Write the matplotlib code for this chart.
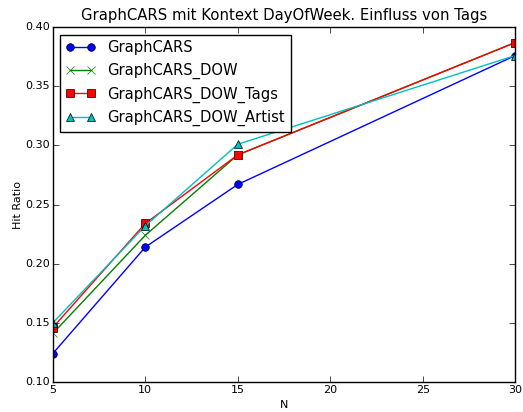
import matplotlib
matplotlib.use("Agg")
import matplotlib.pyplot as plt

plt.style.use("classic")

N = [5, 10, 15, 30]
graphcars = [0.124, 0.214, 0.267, 0.376]
graphcars_dow = [0.141, 0.224, 0.292, 0.387]
graphcars_dow_tags = [0.146, 0.234, 0.292, 0.387]
graphcars_dow_artist = [0.150, 0.232, 0.301, 0.376]

fig = plt.figure(figsize=(5.23, 4.12), dpi=100, facecolor="white")
ax = fig.add_axes([0.101, 0.073, 0.884, 0.861])

ax.plot(N, graphcars, "b-o", ms=5.5, label="GraphCARS")
ax.plot(N, graphcars_dow, "g-x", ms=5.5, label="GraphCARS_DOW")
ax.plot(N, graphcars_dow_tags, "r-s", ms=5.5, label="GraphCARS_DOW_Tags")
ax.plot(N, graphcars_dow_artist, "c-^", ms=5.5, label="GraphCARS_DOW_Artist")

ax.set_xlim(5, 30)
ax.set_ylim(0.10, 0.40)
ax.tick_params(labelsize=8, pad=2)
ax.set_xlabel("N", fontsize=8, labelpad=4)
ax.set_ylabel("Hit Ratio", fontsize=8, labelpad=2)
ax.set_title("GraphCARS mit Kontext DayOfWeek. Einfluss von Tags", fontsize=10.7)
ax.legend(loc="upper left", fontsize=10.6, numpoints=2)

fig.savefig("out.png", dpi=100, facecolor="white")
